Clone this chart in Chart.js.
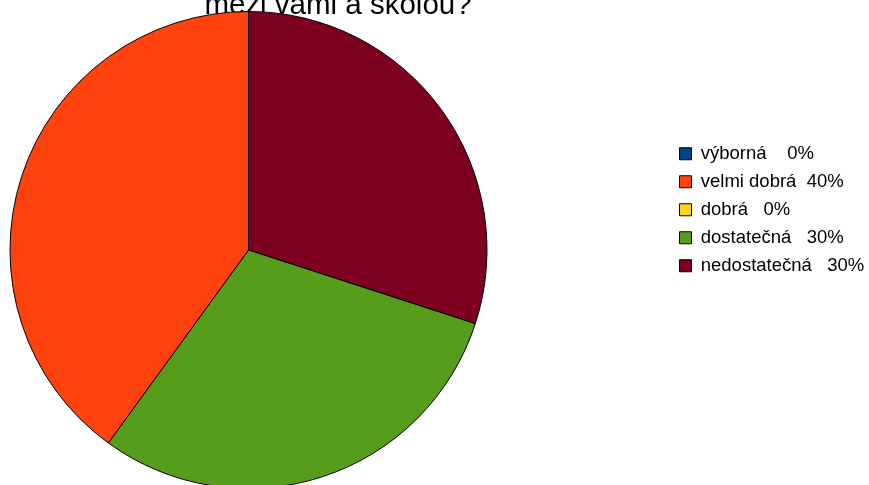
<!DOCTYPE html>
<html>
<head>
<meta charset="utf-8">
<script src="https://cdn.jsdelivr.net/npm/chart.js@4"></script>
<style>
  html, body { margin: 0; padding: 0; background: #fff; overflow: hidden; }
  #wrap { width: 869px; height: 485px; }
</style>
</head>
<body>
<div id="wrap"><canvas id="myChart" width="869" height="485"></canvas></div>
<script>
const titleLine = 'mezi vámi a školou?';
const grades = ['výborná', 'velmi dobrá', 'dobrá', 'dostatečná', 'nedostatečná'];
const shares = [0, 40, 0, 30, 30];
const gaps = ['    ', '  ', '   ', '   ', '   '];
const colors = ['#004586', '#ff420e', '#ffd320', '#579d1c', '#7e0021'];

const font = "'Liberation Sans', Arial, sans-serif";

// slices run the other way round, so feed them in reverse
const pieValues = shares.slice().reverse();
const pieColors = colors.slice().reverse();

// pin the pie, the legend and the title where they belong
const placeBoxes = {
  id: 'placeBoxes',
  afterLayout(chart) {
    chart.chartArea = { left: 9.5, top: 11, right: 487.5, bottom: 489, width: 478, height: 478 };

    const lg = chart.legend;
    const lw = lg.width;
    lg.left = 670; lg.right = 670 + lw;
    lg.top = 135; lg.bottom = 485;

    const tb = chart.titleBlock;
    const th = tb.height;
    tb.left = 202; tb.right = 474;
    tb.top = -12; tb.bottom = -12 + th;
  }
};

new Chart(document.getElementById('myChart'), {
  type: 'pie',
  data: {
    labels: grades.slice().reverse(),
    datasets: [{
      data: pieValues,
      backgroundColor: pieColors,
      borderColor: '#000',
      borderWidth: 1,
      clip: false
    }]
  },
  options: {
    responsive: false,
    animation: false,
    devicePixelRatio: 1,
    plugins: {
      tooltip: { enabled: false },
      title: {
        display: true,
        text: titleLine,
        color: '#000',
        font: { family: font, size: 29.5, weight: 'normal', lineHeight: 1.2 },
        padding: 0
      },
      legend: {
        position: 'right',
        align: 'start',
        labels: {
          color: '#000',
          font: { family: font, size: 18.5 },
          boxWidth: 12,
          boxHeight: 12,
          padding: 9.5,
          generateLabels() {
            return grades.map((g, i) => ({
              text: g + gaps[i] + shares[i] + '%',
              fillStyle: colors[i],
              strokeStyle: '#000',
              lineWidth: 1,
              fontColor: '#000',
              hidden: false,
              index: i
            }));
          }
        }
      }
    }
  },
  plugins: [placeBoxes]
});
</script>
</body>
</html>
